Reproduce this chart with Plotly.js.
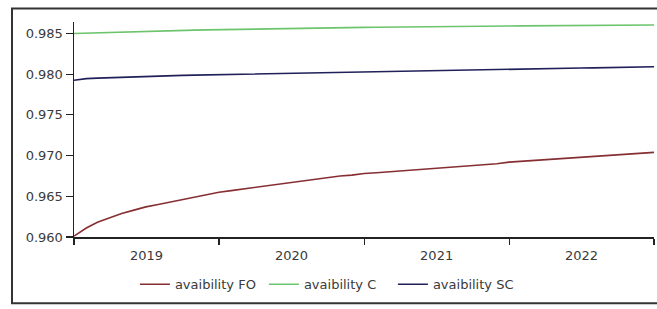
<!DOCTYPE html>
<html>
<head>
<meta charset="utf-8">
<script src="https://cdn.plot.ly/plotly-3.0.1.min.js"></script>
<style>html,body{margin:0;padding:0;background:#fff;}#chart{width:657px;height:309px;}</style>
</head>
<body>
<div id="chart"></div>
<script>
// Monthly samples from 2019-01 to 2023-01 (49 points)
var startYear = 2019;
var seriesNames = ["avaibility FO", "avaibility C", "avaibility SC"];
var seriesColors = ["#862f33", "#6cc46c", "#20205a"];

var availFO = [0.9601,0.9611,0.9618,0.9624,0.9629,0.9633,0.9637,0.9640,0.9643,0.9646,0.9649,0.9652,
  0.9655,0.9657,0.9659,0.9661,0.9663,0.9665,0.9667,0.9669,0.9671,0.9673,0.9675,0.9676,
  0.9678,0.9679,0.9680,0.9681,0.9682,0.9684,0.9685,0.9686,0.9687,0.9688,0.9689,0.9690,
  0.9692,0.9693,0.9694,0.9695,0.9696,0.9697,0.9698,0.9699,0.9700,0.9701,0.9702,0.9703,0.9704];

var availC = [0.98500,0.98505,0.98510,0.98515,0.98519,0.98523,0.98527,0.98531,0.98535,0.98538,0.98541,0.98544,
  0.98547,0.98550,0.98553,0.98556,0.98558,0.98561,0.98563,0.98565,0.98567,0.98569,0.98571,0.98573,
  0.98575,0.98577,0.98579,0.98580,0.98582,0.98583,0.98585,0.98586,0.98588,0.98589,0.98590,0.98591,
  0.98592,0.98593,0.98594,0.98595,0.98596,0.98597,0.98598,0.98599,0.98600,0.98601,0.98602,0.98603,0.98604];

var availSC = [0.97925,0.97945,0.97952,0.97958,0.97963,0.97968,0.97973,0.97978,0.97982,0.97985,0.97988,0.97991,
  0.97994,0.97997,0.98000,0.98004,0.98007,0.98010,0.98013,0.98016,0.98019,0.98022,0.98025,0.98028,
  0.98031,0.98034,0.98037,0.98040,0.98043,0.98046,0.98049,0.98052,0.98055,0.98058,0.98060,0.98062,
  0.98064,0.98066,0.98068,0.98070,0.98072,0.98074,0.98076,0.98078,0.98080,0.98082,0.98085,0.98088,0.98091];

var dates = [];
for (var i = 0; i < availFO.length; i++) {
  var y = startYear + Math.floor(i / 12);
  var m = (i % 12) + 1;
  dates.push(y + "-" + (m < 10 ? "0" + m : m) + "-01");
}

var allSeries = [availFO, availC, availSC];
var traces = allSeries.map(function (vals, k) {
  return {
    x: dates, y: vals, type: "scatter", mode: "lines",
    name: seriesNames[k],
    line: {color: seriesColors[k], width: 1.6}
  };
});

var font = {family: "DejaVu Sans, Verdana, sans-serif", size: 13, color: "#3a3a3a"};

var layout = {
  width: 657, height: 309,
  margin: {l: 74, r: 3, t: 22, b: 71.5, pad: 0},
  paper_bgcolor: "#fff", plot_bgcolor: "#fff",
  font: font,
  showlegend: true,
  legend: {
    orientation: "h", x: 0.105, xanchor: "left", y: -0.22, yanchor: "middle",
    font: font, itemwidth: 30, entrywidth: 84, entrywidthmode: "pixels",
    bgcolor: "rgba(0,0,0,0)"
  },
  xaxis: {
    type: "date", range: ["2019-01-01", "2023-01-01"],
    tick0: "2019-01-01", dtick: "M12", tickformat: "%Y", ticklabelmode: "period",
    ticks: "outside", ticklen: 6, tickwidth: 1.2, tickcolor: "#222",
    showline: true, linecolor: "#222", linewidth: 1.5,
    showgrid: false, zeroline: false, tickfont: font
  },
  xaxis2: {
    type: "date", range: ["2019-01-01", "2023-01-01"], overlaying: "x", anchor: "y", side: "bottom",
    tick0: "2019-01-01", dtick: "M12",
    ticks: "inside", ticklen: 5, tickwidth: 1.2, tickcolor: "#222",
    showticklabels: false, showline: false, showgrid: false, zeroline: false
  },
  yaxis: {
    range: [0.960, 0.98641],
    tickvals: [0.960, 0.965, 0.970, 0.975, 0.980, 0.985],
    tickformat: ".3f",
    ticks: "outside", ticklen: 7, tickwidth: 1.2, tickcolor: "#222",
    showline: true, linecolor: "#222", linewidth: 1.5,
    showgrid: false, zeroline: false, tickfont: font
  },
  shapes: [{
    type: "rect", xref: "paper", yref: "paper",
    x0: -0.1069, x1: 1.2, y0: -0.3085, y1: 1.0626,
    line: {color: "#333", width: 2}, layer: "below"
  }]
};

Plotly.newPlot("chart", traces, layout, {displayModeBar: false, staticPlot: true});
</script>
</body>
</html>
